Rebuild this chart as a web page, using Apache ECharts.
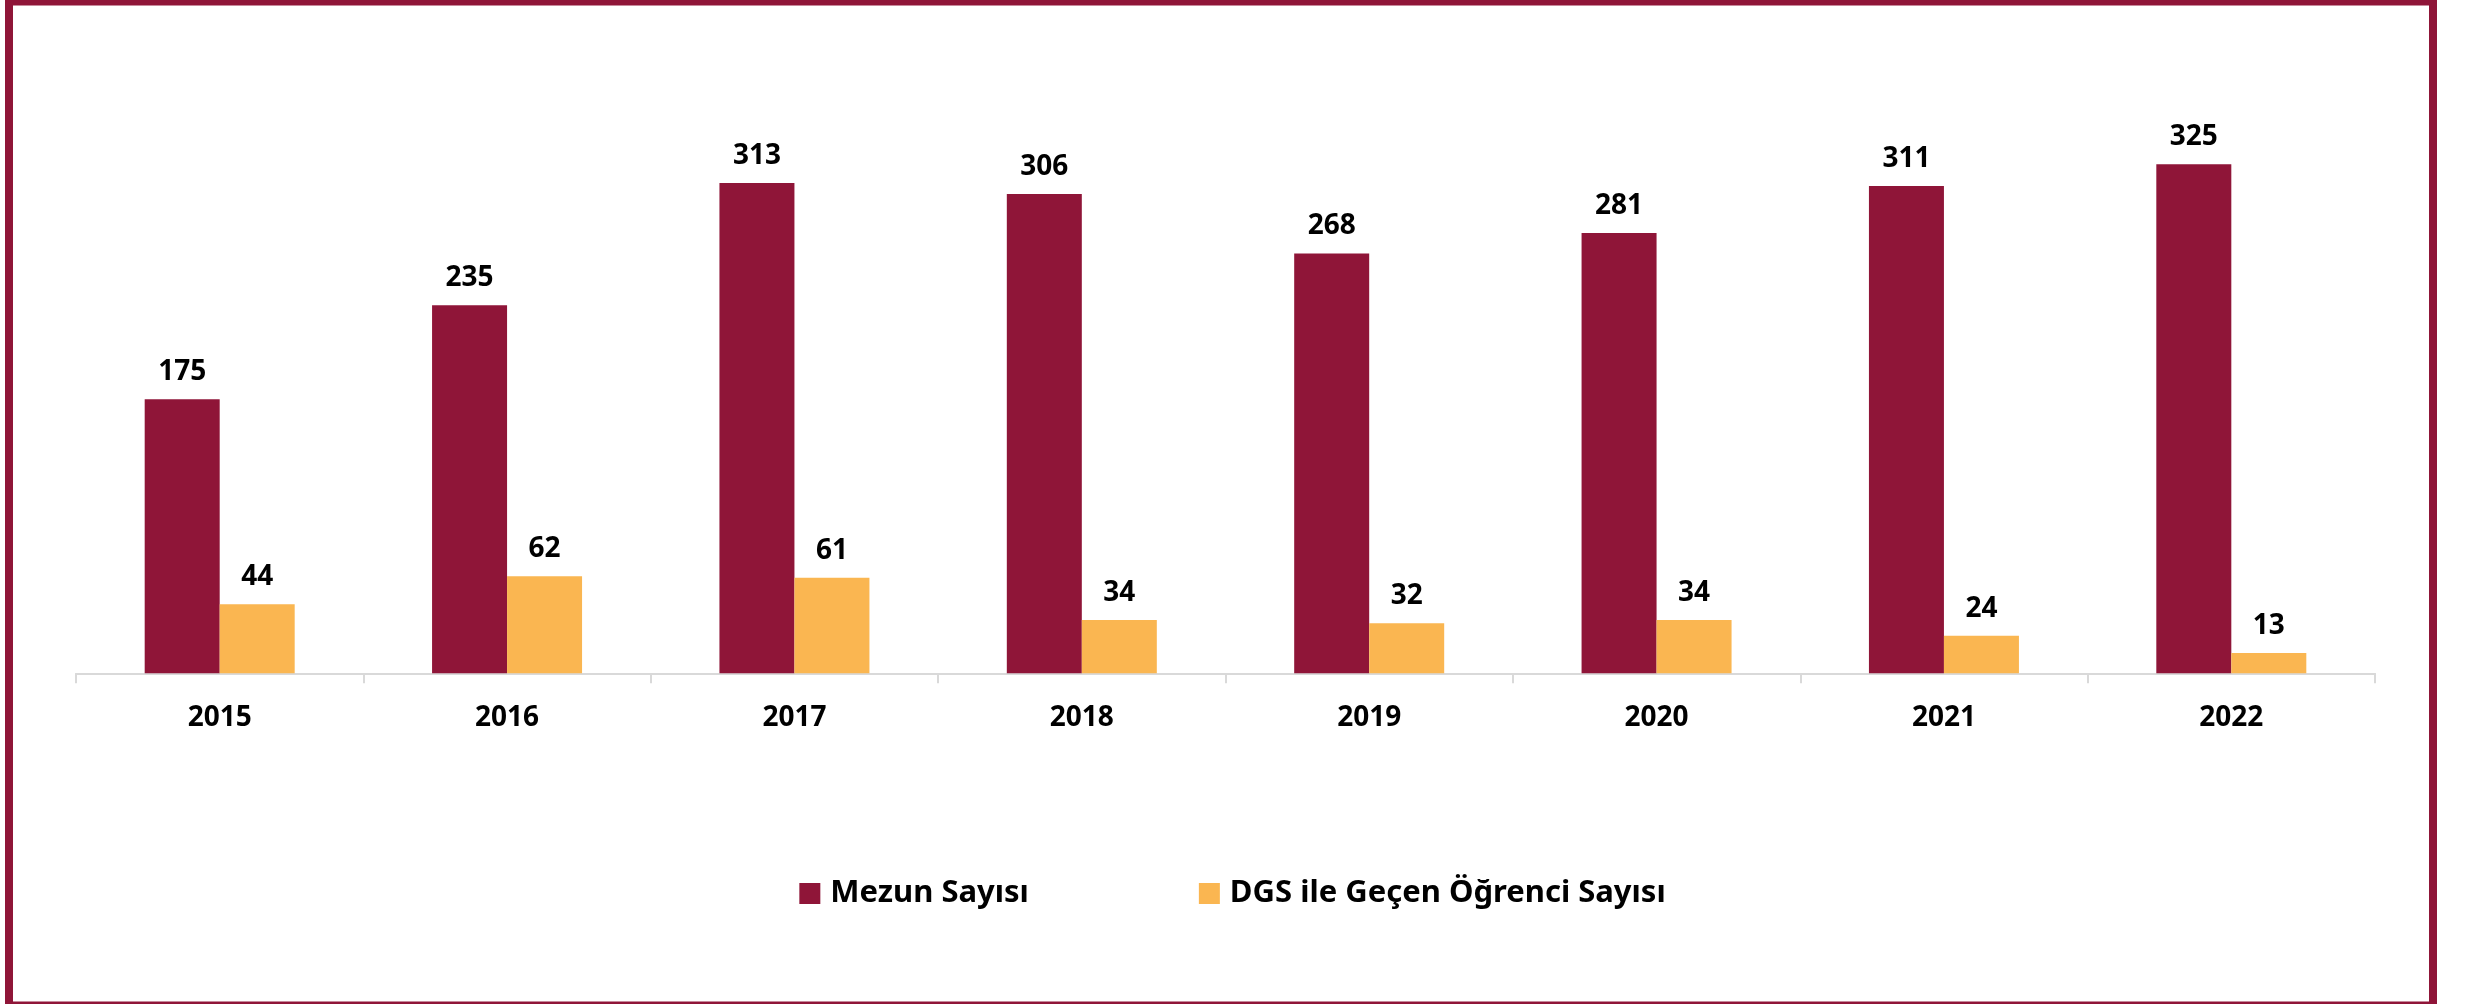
<!DOCTYPE html>
<html>
<head>
<meta charset="utf-8">
<script src="https://cdn.jsdelivr.net/npm/echarts@6/dist/echarts.min.js"></script>
<style>
html,body{margin:0;padding:0;background:#fff;}
#chart{width:2465px;height:1004px;}
</style>
</head>
<body>
<div id="chart"></div>
<script>
const categories = ['2015','2016','2017','2018','2019','2020','2021','2022'];
const mezunSayisi = [175,235,313,306,268,281,311,325];
const dgsSayisi = [44,62,61,34,32,34,24,13];
const seriesNames = ['Mezun Sayısı','DGS ile Geçen Öğrenci Sayısı'];

const FONT = '"Noto Sans", "Open Sans", sans-serif';
const MAROON = '#8F1538';
const ORANGE = '#FAB651';
const FRAME = '#8F1538';

const chart = echarts.init(document.getElementById('chart'), null, {renderer:'canvas'});
const labelStyle = {
  show: true, position: 'top', distance: 13,
  color: '#000', fontFamily: FONT, fontWeight: 'bold', fontSize: 28
};
chart.setOption({
  animation: false,
  backgroundColor: '#fff',
  grid: {left: 76, right: 90, top: 125, bottom: 330.7, containLabel: false},
  legend: {
    data: seriesNames,
    left: 'center', top: 873,
    itemWidth: 21, itemHeight: 21, itemGap: 170,
    icon: 'rect',
    textStyle: {fontFamily: FONT, fontWeight: 'bold', fontSize: 31, color: '#000', padding: [0,0,0,5]}
  },
  xAxis: {
    type: 'category',
    data: categories,
    boundaryGap: true,
    axisLine: {show: true, lineStyle: {color: '#d9d9d9', width: 2}},
    axisTick: {show: true, length: 10, alignWithLabel: false, lineStyle: {color: '#d9d9d9', width: 2}},
    axisLabel: {margin: 31, color: '#000', fontFamily: FONT, fontWeight: 'bold', fontSize: 28}
  },
  yAxis: {
    type: 'value', min: 0, max: 350, interval: 50, show: false,
    splitLine: {show: false}
  },
  series: [
    {name: seriesNames[0], type: 'bar', data: mezunSayisi, barWidth: 75, barGap: '0%',
     itemStyle: {color: MAROON}, label: labelStyle},
    {name: seriesNames[1], type: 'bar', data: dgsSayisi, barWidth: 75, barGap: '0%',
     itemStyle: {color: ORANGE}, label: labelStyle}
  ],
  graphic: [
    {type: 'rect', shape: {x: 5, y: 0, width: 2432, height: 5.5}, style: {fill: FRAME}, z: 100},
    {type: 'rect', shape: {x: 5, y: 0, width: 8, height: 1004}, style: {fill: FRAME}, z: 100},
    {type: 'rect', shape: {x: 2429, y: 0, width: 8, height: 1004}, style: {fill: FRAME}, z: 100},
    {type: 'rect', shape: {x: 5, y: 1001.5, width: 2432, height: 2.5}, style: {fill: FRAME}, z: 100}
  ]
});
</script>
</body>
</html>
